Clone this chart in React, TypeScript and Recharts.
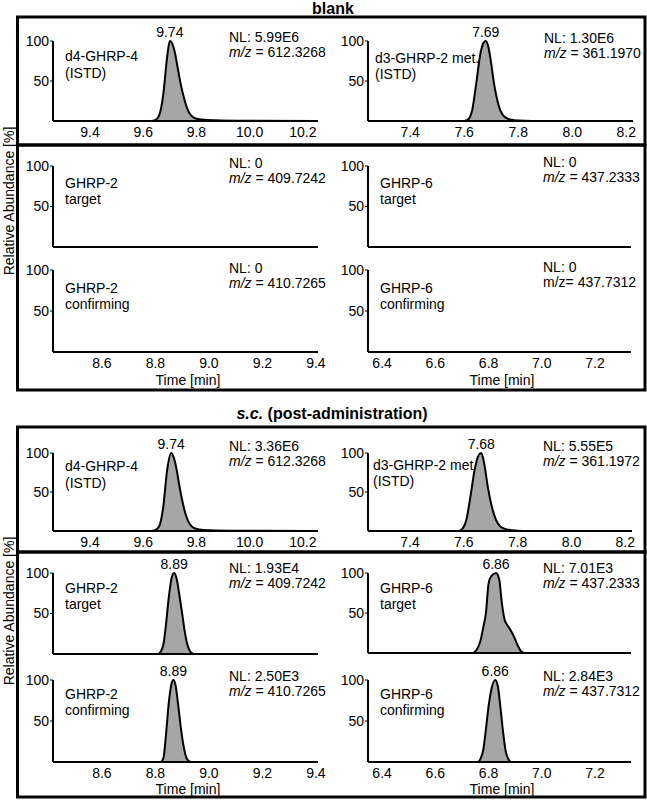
import React from 'react';
import { AreaChart, Area, XAxis, YAxis, ReferenceDot } from 'recharts';

const FONT = '"Liberation Sans", Arial, Helvetica, sans-serif';

// ---- axis ticks / domains ----
const istd4Ticks = [9.4, 9.6, 9.8, 10.0, 10.2];
const istd2Ticks = [7.4, 7.6, 7.8, 8.0, 8.2];
const ghrp2Ticks = [8.6, 8.8, 9.0, 9.2, 9.4];
const ghrp6Ticks = [6.4, 6.6, 6.8, 7.0, 7.2];
const yTicks = [50, 100];
const istd4Domain = [9.261, 10.257];
const istd2Domain = [7.244, 8.225];
const ghrp2Domain = [8.417, 9.408];
const ghrp6Domain = [6.347, 7.335];

// ---- blank ----
const blankD4Time = [9.261, 9.63, 9.645, 9.66, 9.675, 9.69, 9.7, 9.71, 9.72, 9.73, 9.74, 9.75, 9.76, 9.77, 9.78, 9.795, 9.82, 9.87, 9.95, 10.257];
const blankD4Abund = [0, 0, 1, 7, 32, 80, 100, 96, 84, 66, 48, 33, 21, 12, 7, 3.5, 1.8, 0.8, 0.3, 0];
const blankD3Time = [7.244, 7.6, 7.615, 7.63, 7.645, 7.66, 7.672, 7.68, 7.69, 7.7, 7.71, 7.72, 7.73, 7.74, 7.755, 7.775, 7.8, 7.85, 8.225];
const blankD3Abund = [0, 0, 2, 14, 48, 84, 98, 100, 92, 72, 48, 30, 17, 9, 4, 1.5, 0.5, 0, 0];
const blankG2TargetTime = [8.417, 9.408];
const blankG2TargetAbund = [0, 0];
const blankG2ConfTime = [8.417, 9.408];
const blankG2ConfAbund = [0, 0];
const blankG6TargetTime = [6.347, 7.335];
const blankG6TargetAbund = [0, 0];
const blankG6ConfTime = [6.347, 7.335];
const blankG6ConfAbund = [0, 0];

// ---- s.c. ----
const scD4Time = [9.261, 9.63, 9.645, 9.66, 9.675, 9.69, 9.705, 9.715, 9.725, 9.735, 9.745, 9.755, 9.765, 9.775, 9.79, 9.81, 9.85, 9.95, 10.257];
const scD4Abund = [0, 0, 1, 6, 30, 78, 100, 94, 80, 60, 42, 27, 16, 9, 4, 2, 1, 0.3, 0];
const scD3Time = [7.244, 7.58, 7.595, 7.61, 7.625, 7.64, 7.655, 7.665, 7.675, 7.69, 7.705, 7.72, 7.735, 7.75, 7.78, 7.82, 8.225];
const scD3Abund = [0, 0, 3, 15, 45, 78, 97, 100, 88, 55, 30, 14, 6, 3, 1, 0, 0];
const scG2TargetTime = [8.417, 8.81, 8.82, 8.83, 8.84, 8.85, 8.86, 8.87, 8.88, 8.89, 8.9, 8.91, 8.92, 8.93, 8.94, 8.95, 9.408];
const scG2TargetAbund = [0, 0, 3, 12, 38, 70, 93, 100, 92, 72, 50, 27, 11, 3, 0.5, 0, 0];
const scG2ConfTime = [8.417, 8.82, 8.83, 8.84, 8.85, 8.86, 8.867, 8.875, 8.885, 8.895, 8.905, 8.915, 8.925, 8.935, 9.408];
const scG2ConfAbund = [0, 0, 5, 35, 72, 95, 100, 94, 70, 42, 20, 6, 1, 0, 0];
const scG6TargetTime = [6.347, 6.74, 6.75, 6.76, 6.77, 6.78, 6.79, 6.8, 6.81, 6.828, 6.84, 6.85, 6.86, 6.87, 6.88, 6.89, 6.9, 6.91, 6.92, 6.93, 6.94, 7.335];
const scG6TargetAbund = [0, 0, 2, 7, 16, 32, 50, 87, 96, 100, 92, 62, 42, 35, 30, 24, 17, 9, 3, 0.5, 0, 0];
const scG6ConfTime = [6.347, 6.76, 6.77, 6.78, 6.79, 6.8, 6.81, 6.825, 6.835, 6.845, 6.855, 6.865, 6.875, 6.885, 7.335];
const scG6ConfAbund = [0, 0, 4, 15, 40, 68, 88, 100, 92, 65, 35, 12, 3, 0, 0];

const toRows = (t: number[], v: number[]) => t.map((x, i) => ({ t: x, v: v[i] }));
const apexOf = (t: number[], v: number[]) => t[v.indexOf(Math.max(...v))];

type PanelProps = {
  x0: number; x1: number; y100: number; y0: number;
  domain: number[]; ticks: number[]; showTicks: boolean;
  time: number[]; abund: number[]; peakLabel?: string;
};

function Panel({ x0, x1, y100, y0, domain, ticks, showTicks, time, abund, peakLabel }: PanelProps) {
  const mTop = 22, mRight = 8, yW = 40, xH = 24, mBottom = 2;
  const width = x1 - x0 + yW + mRight;
  const height = y0 - y100 + mTop + xH + mBottom;
  const data = toRows(time, abund);
  const tickStyle = { fontSize: 14, fill: '#000', fontFamily: FONT };
  return (
    <div style={{ position: 'absolute', left: x0 - yW, top: y100 - mTop }}>
      <AreaChart width={width} height={height} data={data} margin={{ top: mTop, right: mRight, bottom: mBottom, left: 0 }}>
        <XAxis
          dataKey="t" type="number" domain={domain} ticks={ticks} height={xH}
          tick={showTicks ? tickStyle : false} tickLine={false} tickSize={4} tickMargin={2}
          tickFormatter={(v: number) => v.toFixed(1)}
          axisLine={{ stroke: '#000', strokeWidth: 2 }}
        />
        <YAxis
          type="number" domain={[0, 100]} ticks={yTicks} width={yW}
          tick={tickStyle} tickSize={3} tickMargin={1}
          tickLine={{ stroke: '#000', strokeWidth: 1 }}
          axisLine={{ stroke: '#000', strokeWidth: 2 }}
        />
        <Area
          type="monotone" dataKey="v" stroke="#000" strokeWidth={2} fill="#a6a6a6" fillOpacity={1}
          isAnimationActive={false} dot={false} activeDot={false}
        />
        {peakLabel && (
          <ReferenceDot
            x={apexOf(time, abund)} y={100} r={1} fill="none" stroke="none"
            label={{ value: peakLabel, position: 'top', offset: 3, fontSize: 14, fill: '#000', fontFamily: FONT }}
          />
        )}
      </AreaChart>
    </div>
  );
}

const txt = { fontSize: 14, fontFamily: FONT, fill: '#000' } as const;

function T({ x, y, children }: { x: number; y: number; children: React.ReactNode }) {
  return <text x={x} y={y} dominantBaseline="central" style={txt}>{children}</text>;
}

function MZ({ x, y, value, italic = true }: { x: number; y: number; value: string; italic?: boolean }) {
  return (
    <text x={x} y={y} dominantBaseline="central" style={txt}>
      {italic ? <tspan fontStyle="italic">m/z</tspan> : <tspan>m/z</tspan>}
      <tspan>{value}</tspan>
    </text>
  );
}

export default function App() {
  return (
    <div style={{ position: 'absolute', left: 0, top: 0, width: 647, height: 800, background: '#fff' }}>
      <svg width={647} height={800} style={{ position: 'absolute', left: 0, top: 0 }}>
        <rect x={17.5} y={17} width={627.5} height={128} fill="none" stroke="#000" strokeWidth={3} />
        <rect x={17.5} y={145} width={627.5} height={245} fill="none" stroke="#000" strokeWidth={3} />
        <rect x={17.5} y={427} width={627.5} height={125} fill="none" stroke="#000" strokeWidth={3} />
        <rect x={17.5} y={552} width={627.5} height={245} fill="none" stroke="#000" strokeWidth={3} />
      </svg>

      {/* blank */}
      <Panel x0={53} x1={318} y100={41} y0={121} domain={istd4Domain} ticks={istd4Ticks} showTicks time={blankD4Time} abund={blankD4Abund} peakLabel="9.74" />
      <Panel x0={368} x1={633} y100={41} y0={121} domain={istd2Domain} ticks={istd2Ticks} showTicks time={blankD3Time} abund={blankD3Abund} peakLabel="7.69" />
      <Panel x0={53} x1={318} y100={166} y0={247} domain={ghrp2Domain} ticks={ghrp2Ticks} showTicks={false} time={blankG2TargetTime} abund={blankG2TargetAbund} />
      <Panel x0={53} x1={318} y100={270} y0={352} domain={ghrp2Domain} ticks={ghrp2Ticks} showTicks time={blankG2ConfTime} abund={blankG2ConfAbund} />
      <Panel x0={368} x1={631} y100={166} y0={247} domain={ghrp6Domain} ticks={ghrp6Ticks} showTicks={false} time={blankG6TargetTime} abund={blankG6TargetAbund} />
      <Panel x0={368} x1={631} y100={270} y0={352} domain={ghrp6Domain} ticks={ghrp6Ticks} showTicks time={blankG6ConfTime} abund={blankG6ConfAbund} />

      {/* s.c. */}
      <Panel x0={53} x1={318} y100={453} y0={531} domain={istd4Domain} ticks={istd4Ticks} showTicks time={scD4Time} abund={scD4Abund} peakLabel="9.74" />
      <Panel x0={368} x1={632} y100={453} y0={531} domain={istd2Domain} ticks={istd2Ticks} showTicks time={scD3Time} abund={scD3Abund} peakLabel="7.68" />
      <Panel x0={53} x1={318} y100={573} y0={654} domain={ghrp2Domain} ticks={ghrp2Ticks} showTicks={false} time={scG2TargetTime} abund={scG2TargetAbund} peakLabel="8.89" />
      <Panel x0={53} x1={318} y100={680} y0={762} domain={ghrp2Domain} ticks={ghrp2Ticks} showTicks time={scG2ConfTime} abund={scG2ConfAbund} peakLabel="8.89" />
      <Panel x0={368} x1={631} y100={573} y0={653} domain={ghrp6Domain} ticks={ghrp6Ticks} showTicks={false} time={scG6TargetTime} abund={scG6TargetAbund} peakLabel="6.86" />
      <Panel x0={368} x1={631} y100={680} y0={762} domain={ghrp6Domain} ticks={ghrp6Ticks} showTicks time={scG6ConfTime} abund={scG6ConfAbund} peakLabel="6.86" />

      <svg width={647} height={800} style={{ position: 'absolute', left: 0, top: 0, pointerEvents: 'none' }}>
        <text x={333} y={8} dominantBaseline="central" textAnchor="middle" style={{ ...txt, fontSize: 16, fontWeight: 'bold' }}>blank</text>
        <text x={332} y={413} dominantBaseline="central" textAnchor="middle" style={{ ...txt, fontSize: 16, fontWeight: 'bold' }}>
          <tspan fontStyle="italic">s.c.</tspan> (post-administration)
        </text>
        <text x={9} y={201} dominantBaseline="central" textAnchor="middle" transform="rotate(-90 9 201)" style={txt}>Relative Abundance [%]</text>
        <text x={9} y={611} dominantBaseline="central" textAnchor="middle" transform="rotate(-90 9 611)" style={txt}>Relative Abundance [%]</text>

        {/* blank annotations */}
        <T x={65} y={56}>d4-GHRP-4</T>
        <T x={65} y={73}>(ISTD)</T>
        <T x={229} y={37}>NL: 5.99E6</T>
        <MZ x={229} y={52} value=" = 612.3268" />
        <T x={375} y={58}>d3-GHRP-2 met.</T>
        <T x={375} y={74}>(ISTD)</T>
        <T x={544} y={38}>NL: 1.30E6</T>
        <MZ x={544} y={53} value=" = 361.1970" />

        <T x={65} y={183}>GHRP-2</T>
        <T x={65} y={199}>target</T>
        <T x={229} y={163}>NL: 0</T>
        <MZ x={229} y={178} value=" = 409.7242" />
        <T x={65} y={288}>GHRP-2</T>
        <T x={65} y={304}>confirming</T>
        <T x={229} y={268}>NL: 0</T>
        <MZ x={229} y={283} value=" = 410.7265" />

        <T x={380} y={183}>GHRP-6</T>
        <T x={380} y={199}>target</T>
        <T x={543} y={162}>NL: 0</T>
        <MZ x={543} y={177} value=" = 437.2333" />
        <T x={380} y={288}>GHRP-6</T>
        <T x={380} y={304}>confirming</T>
        <T x={543} y={267}>NL: 0</T>
        <MZ x={543} y={282} value="= 437.7312" italic={false} />

        <text x={188} y={380} dominantBaseline="central" textAnchor="middle" style={txt}>Time [min]</text>
        <text x={502} y={380} dominantBaseline="central" textAnchor="middle" style={txt}>Time [min]</text>

        {/* s.c. annotations */}
        <T x={65} y={466}>d4-GHRP-4</T>
        <T x={65} y={483}>(ISTD)</T>
        <T x={229} y={446}>NL: 3.36E6</T>
        <MZ x={229} y={461} value=" = 612.3268" />
        <T x={373} y={465}>d3-GHRP-2 met</T>
        <T x={373} y={481}>(ISTD)</T>
        <T x={543} y={446}>NL: 5.55E5</T>
        <MZ x={543} y={461} value=" = 361.1972" />

        <T x={65} y={588}>GHRP-2</T>
        <T x={65} y={604}>target</T>
        <T x={229} y={568}>NL: 1.93E4</T>
        <MZ x={229} y={583} value=" = 409.7242" />
        <T x={65} y={694}>GHRP-2</T>
        <T x={65} y={710}>confirming</T>
        <T x={229} y={676}>NL: 2.50E3</T>
        <MZ x={229} y={691} value=" = 410.7265" />

        <T x={380} y={588}>GHRP-6</T>
        <T x={380} y={604}>target</T>
        <T x={543} y={568}>NL: 7.01E3</T>
        <MZ x={543} y={583} value=" = 437.2333" />
        <T x={380} y={694}>GHRP-6</T>
        <T x={380} y={710}>confirming</T>
        <T x={543} y={676}>NL: 2.84E3</T>
        <MZ x={543} y={691} value=" = 437.7312" />

        <text x={188} y={789} dominantBaseline="central" textAnchor="middle" style={txt}>Time [min]</text>
        <text x={502} y={789} dominantBaseline="central" textAnchor="middle" style={txt}>Time [min]</text>
      </svg>
    </div>
  );
}
